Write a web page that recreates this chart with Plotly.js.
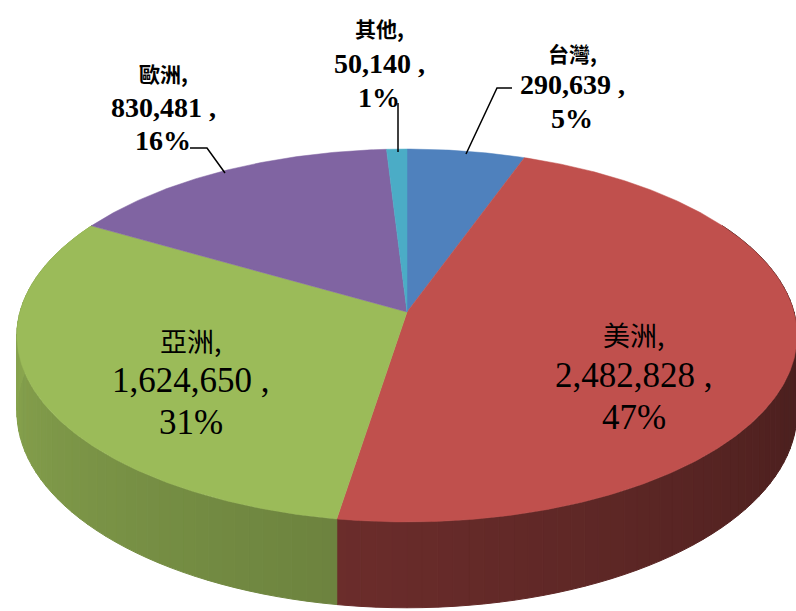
<!DOCTYPE html>
<html>
<head>
<meta charset="utf-8">
<script src="https://cdn.plot.ly/plotly-3.0.1.min.js"></script>
<style>html,body{margin:0;padding:0;background:#fff;}#chart{width:796px;height:611px;}</style>
</head>
<body>
<div id="chart"></div>
<script>
// ---- data ----
const categories = ['台灣', '美洲', '亞洲', '歐洲', '其他'];
const values = [290639, 2482828, 1624650, 830481, 50140];
const percentLabels = ['5%', '47%', '31%', '16%', '1%'];

// ---- styles ----
const topColors = ['#4f81bd', '#c0504d', '#9bbb59', '#8064a2', '#4bacc6'];
const sideShadeLo = [0.45, 0.36, 0.48, 0.45, 0.45];
const sideShadeHi = [0.75, 0.72, 0.88, 0.75, 0.75];
// label centre x and the y of each of its three lines
const labelX = [572, 634, 191, 163, 379];
const labelLinesY = [[53, 84, 118], [334, 375, 417], [340, 380, 422], [73, 107, 140], [28, 63, 97]];
const labelBig = [false, true, true, false, false];

// ---- 3D pie geometry (pixel space) ----
const geo = {cx: 407, cy: 312, A: 387, B: 183.5, k: 0.126, H: 75};
function proj(thetaDeg, h) {
  const t = thetaDeg * Math.PI / 180;
  const u = Math.sin(t), v = -Math.cos(t);
  const w = 1 - geo.k * v;
  return [geo.cx + geo.A * u / w, geo.cy + (geo.B * v + h) / w];
}
function shade(hex, f) {
  const n = parseInt(hex.slice(1), 16);
  const r = Math.round(((n >> 16) & 255) * f), g = Math.round(((n >> 8) & 255) * f), b = Math.round((n & 255) * f);
  return 'rgb(' + Math.min(255, r) + ',' + Math.min(255, g) + ',' + Math.min(255, b) + ')';
}

const total = values.reduce((a, b) => a + b, 0);
const slices = [];
let cum = 0;
values.forEach((v, i) => {
  const t1 = cum / total * 360;
  cum += v;
  const t2 = cum / total * 360;
  slices.push({i, t1, t2});
});

const traces = [];
// side walls (drawn first, then tops over them)
slices.forEach(s => {
  const a0 = Math.max(s.t1, 60), a1 = Math.min(s.t2, 300);
  if (a1 <= a0) return;
  const step = 2;
  for (let a = a0; a < a1; a += step) {
    const b = Math.min(a + step, a1);
    const p1 = proj(a, 0), p2 = proj(b, 0), p3 = proj(b, geo.H), p4 = proj(a, geo.H);
    const mid = (a + b) / 2;
    const f = sideShadeLo[s.i] + (sideShadeHi[s.i] - sideShadeLo[s.i]) * (mid - 90) / 180;
    const c = shade(topColors[s.i], f);
    traces.push({
      type: 'scatter', mode: 'lines', fill: 'toself', fillcolor: c,
      x: [p1[0], p2[0], p3[0], p4[0], p1[0]],
      y: [p1[1], p2[1], p3[1], p4[1], p1[1]],
      line: {color: c, width: 1}, hoverinfo: 'skip'
    });
  }
});
// top faces
slices.forEach(s => {
  const xs = [geo.cx], ys = [geo.cy];
  for (let a = s.t1; a < s.t2; a += 0.5) { const p = proj(a, 0); xs.push(p[0]); ys.push(p[1]); }
  const pe = proj(s.t2, 0); xs.push(pe[0]); ys.push(pe[1]);
  xs.push(geo.cx); ys.push(geo.cy);
  traces.push({
    type: 'scatter', mode: 'lines', fill: 'toself', fillcolor: topColors[s.i],
    x: xs, y: ys, line: {color: topColors[s.i], width: 0.5}, hoverinfo: 'skip', name: categories[s.i]
  });
});

// labels: one annotation per line so line spacing matches
const latinFont = '"Liberation Serif", "Noto Sans CJK TC", serif';
const cjkFont = '"Noto Sans CJK TC", serif';
const annotations = [];
categories.forEach((c, i) => {
  const big = labelBig[i];
  const lines = [
    {t: c + ',', f: cjkFont, s: big ? 27 : 21},
    {t: values[i].toLocaleString('en-US') + ' ,', f: latinFont, s: big ? 35 : 28},
    {t: percentLabels[i], f: latinFont, s: big ? 35 : 28}
  ];
  lines.forEach((ln, j) => {
    annotations.push({
      x: labelX[i], y: labelLinesY[i][j], xref: 'x', yref: 'y',
      text: big ? ln.t : '<b>' + ln.t + '</b>',
      showarrow: false, xanchor: 'center', yanchor: 'middle',
      font: {family: ln.f, size: ln.s, color: '#000'}
    });
  });
});

// leader lines
const shapes = [
  {type: 'path', path: 'M466,154 L497,88 L512,88', line: {color: '#000', width: 1.5}},
  {type: 'path', path: 'M398,152 L398,103', line: {color: '#000', width: 1.5}},
  {type: 'path', path: 'M225,173 L207,148 L190,148', line: {color: '#000', width: 1.5}}
].map(s => Object.assign({xref: 'x', yref: 'y'}, s));

const layout = {
  width: 796, height: 611,
  margin: {l: 0, r: 0, t: 0, b: 0},
  paper_bgcolor: '#fff', plot_bgcolor: '#fff',
  showlegend: false, hovermode: false,
  xaxis: {range: [0, 796], visible: false, fixedrange: true},
  yaxis: {range: [611, 0], visible: false, fixedrange: true},
  annotations, shapes
};
Plotly.newPlot('chart', traces, layout, {staticPlot: true, displayModeBar: false});
</script>
</body>
</html>
